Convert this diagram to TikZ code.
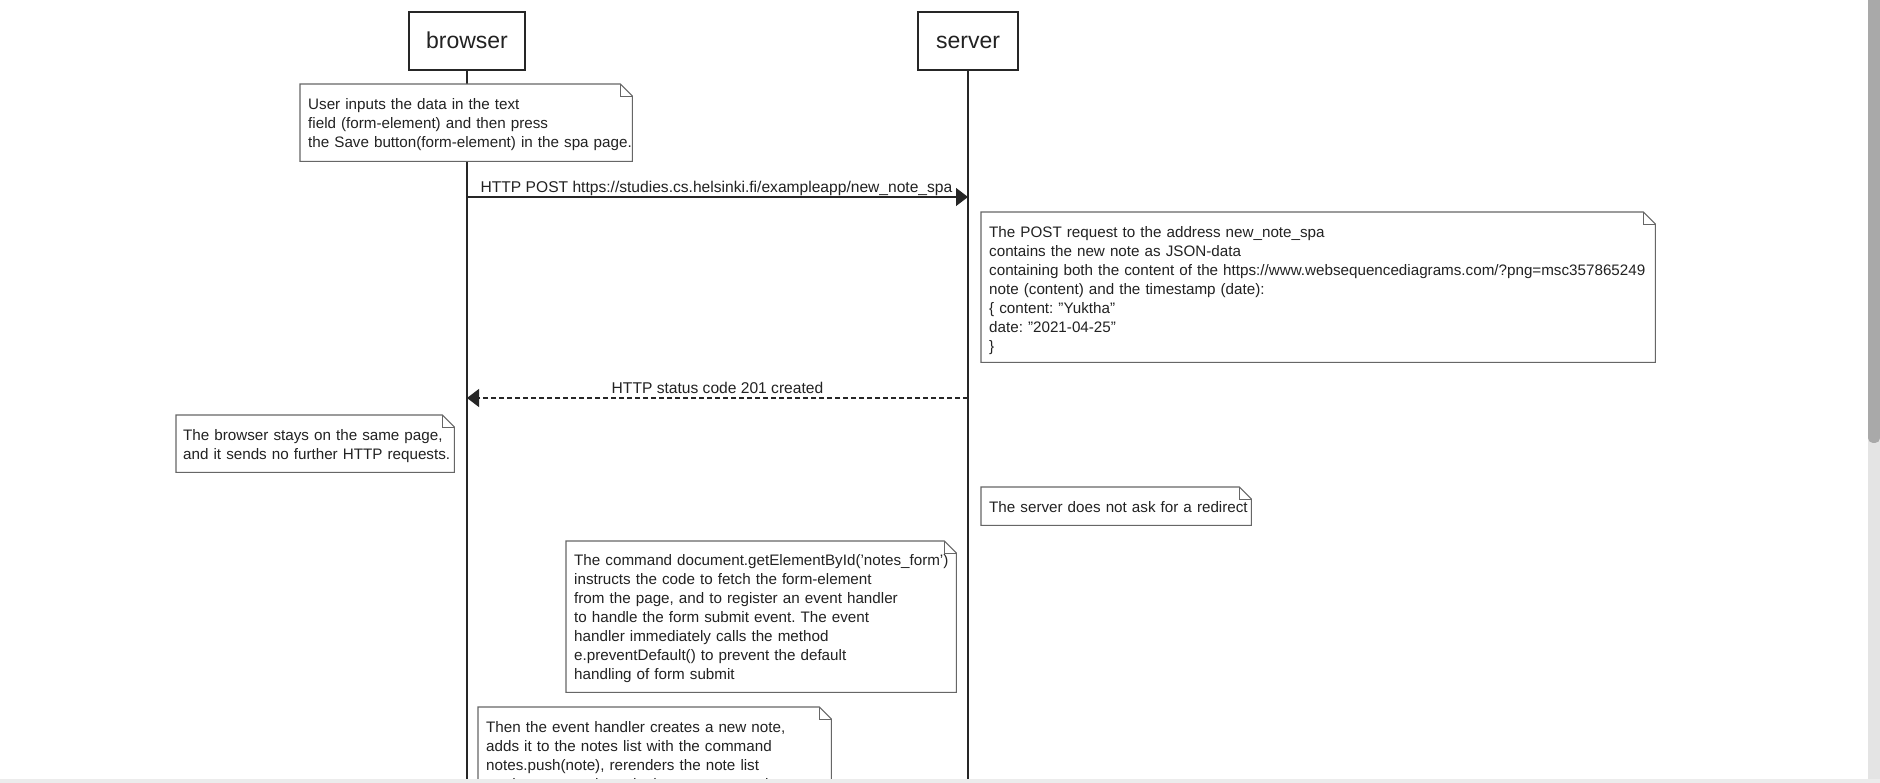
\documentclass[tikz,border=0pt]{standalone}
\usepackage{fontspec}
\setmainfont{Liberation Sans}
\usetikzlibrary{arrows.meta}
\definecolor{inkcol}{HTML}{222222}
\definecolor{linecol}{HTML}{262626}
\definecolor{notecol}{HTML}{666666}
\definecolor{thumbcol}{HTML}{A9A9A9}
\definecolor{trackcol}{HTML}{E4E4E4}
\definecolor{stripcol}{HTML}{ECECEC}

% folded-corner outline around a note node
\newcommand\dogear[1]{%
  \draw[noteline] (#1.north west) -- ([xshift=-12pt]#1.north east)
    -- ([yshift=-12pt]#1.north east) -- (#1.south east) -- (#1.south west) -- cycle;
  \draw[noteline, line width=0.8pt] ([xshift=-12pt]#1.north east)
    -- ([xshift=-12pt,yshift=-12pt]#1.north east) -- ([yshift=-12pt]#1.north east);
}
% one unbreakable line of note text
\newcommand\nline[1]{\mbox{\strut#1}}
% first line of a note, with extra head room above it
\newcommand\fline[2][18.1pt]{\mbox{\vrule height #1 depth 5.7pt width 0pt#2}}
\newcommand\dq{\symbol{34}}

\begin{document}
\frenchspacing
\begin{tikzpicture}[x=1pt, y=-1pt,
  actor/.style={draw=linecol, line width=1.2pt, fill=white, minimum height=58pt,
    inner sep=0pt, text height=20.8pt, text depth=5pt,
    font=\fontsize{23}{27}\selectfont, text=inkcol},
  lifeline/.style={draw=linecol, line width=1.1pt},
  notebox/.style={fill=white, anchor=north west, align=left, inner xsep=8pt,
    inner ysep=0pt, font=\fontsize{15.2}{19}\selectfont\frenchspacing, text=inkcol},
  noteline/.style={draw=notecol, line width=1.1pt},
  msg/.style={draw=linecol, line width=1.1pt, -{Triangle[length=12pt,width=18pt]}},
  reply/.style={msg, dash pattern=on 5pt off 3pt},
  msglabel/.style={font=\fontsize{15.6}{19}\selectfont, text=inkcol, inner sep=0pt,
    text height=11pt, text depth=3.5pt, above=0pt},
]
\useasboundingbox (0,0) rectangle (1880,783);
\fill[white] (0,0) rectangle (1880,783);

% participants
\node[actor, minimum width=116pt] (browser) at (467,41) {browser};
\node[actor, minimum width=100pt] (server) at (968,41) {server};

% lifelines
\coordinate (browserend) at (467,790);
\coordinate (serverend) at (968,790);
\draw[lifeline] (browser.south) -- (browserend);
\draw[lifeline] (server.south) -- (serverend);

% note 1
\node[notebox, minimum width=332pt, minimum height=77pt, text width=316pt] (n1) at (300,84)
  {\fline{User inputs the data in the text}\\
   \nline{field (form-element) and then press}\\
   \nline{the Save button(form-element) in the spa page.}};
\dogear{n1}

% POST request
\coordinate (m1from) at (467,197);
\coordinate (m1to) at (968,197);
\draw[msg] (m1from) -- node[msglabel, xshift=-1pt] {HTTP POST https://studies.cs.helsinki.fi/exampleapp/new\_note\_spa} (m1to);

% note 2
\node[notebox, minimum width=674pt, minimum height=150pt, text width=658pt] (n2) at (981,212)
  {\fline[21.3pt]{The POST request to the address new\_note\_spa}\\
   \nline{contains the new note as JSON-data}\\
   \nline{containing both the content of the https://www.websequencediagrams.com/?png=msc357865249}\\
   \nline{note (content) and the timestamp (date):}\\
   \nline{\{ content: \dq Yuktha\dq}\\
   \nline{date: \dq 2021-04-25\dq}\\
   \nline{\}}};
\dogear{n2}

% response
\coordinate (m2from) at (968,398);
\coordinate (m2to) at (467,398);
\draw[reply] (m2from) -- node[msglabel] {HTTP status code 201 created} (m2to);

% note 3
\node[notebox, minimum width=278pt, minimum height=57pt, text width=264pt, inner xsep=7pt] (n3) at (176,415)
  {\fline{The browser stays on the same page,}\\
   \nline{and it sends no further HTTP requests.}};
\dogear{n3}

% note 4
\node[notebox, minimum width=270pt, minimum height=38pt, text width=254pt] (n4) at (981,487)
  {\fline{The server does not ask for a redirect}};
\dogear{n4}

% note 5
\node[notebox, minimum width=390pt, minimum height=151pt, text width=374pt] (n5) at (566,541)
  {\fline{The command document.getElementById('notes\_form')}\\
   \nline{instructs the code to fetch the form-element}\\
   \nline{from the page, and to register an event handler}\\
   \nline{to handle the form submit event. The event}\\
   \nline{handler immediately calls the method}\\
   \nline{e.preventDefault() to prevent the default}\\
   \nline{handling of form submit}};
\dogear{n5}

% note 6
\node[notebox, minimum width=353pt, minimum height=96pt, text width=337pt] (n6) at (478,707)
  {\fline{Then the event handler creates a new note,}\\
   \nline{adds it to the notes list with the command}\\
   \nline{notes.push(note), rerenders the note list}\\
   \nline{on the page and sends the new note to the server.}};
\dogear{n6}

% window scrollbar and bottom edge
\fill[trackcol] (1868,0) rectangle (1880,783);
\fill[thumbcol, rounded corners=5pt] (1868,-10) rectangle (1880,443);
\fill[stripcol] (0,779) rectangle (1880,790);
\end{tikzpicture}
\end{document}
